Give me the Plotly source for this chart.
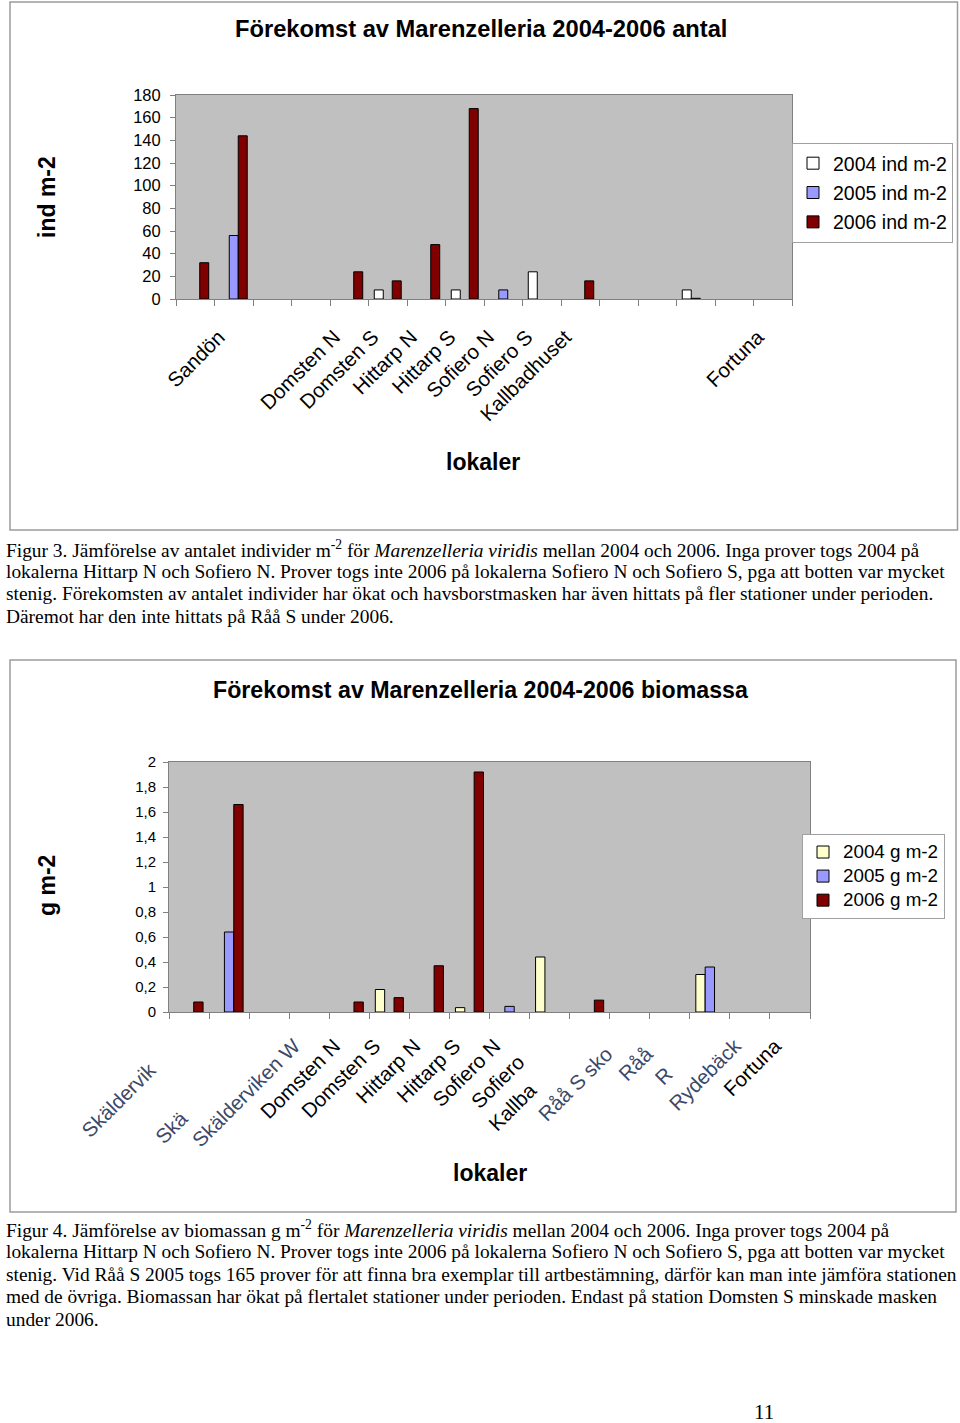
import plotly.graph_objects as go

# ---------------- data ----------------
categories = ["Skälderviken Ö", "Sandön", "Skälderviken M", "Skälderviken W",
              "Domsten N", "Domsten S", "Hittarp N", "Hittarp S",
              "Sofiero N", "Sofiero S", "Kallbadhuset", "Råå S skolan",
              "Råå S", "Råå N", "Rydebäck", "Fortuna"]

ind_2004 = [None, None, None, None, None, 8, None, 8, None, 24, None, None, None, 8, None, None]
ind_2005 = [None, 56, None, None, None, None, None, None, 8, None, None, None, None, 0.6, None, None]
ind_2006 = [32, 144, None, None, 24, 16, 48, 168, None, None, 16, None, None, None, None, None]

bio_2004 = [None, None, None, None, None, 0.18, None, 0.035, None, 0.44, None, None, None, 0.30, None, None]
bio_2005 = [None, 0.64, None, None, None, None, None, None, 0.045, None, None, None, None, 0.36, None, None]
bio_2006 = [0.08, 1.66, None, None, 0.08, 0.115, 0.37, 1.92, None, None, 0.095, None, None, None, None, None]

# visible tick labels as printed in the document
NB = "\u00a0"
G = "<span style='color:#3b4868'>{}</span>"
ticks_chart1 = ["", "Sandön", "", "", "Domsten N", "Domsten S", "Hittarp N", "Hittarp S",
                "Sofiero N", "Sofiero S", "Kallbadhuset", "", "", "", "", "Fortuna"]
ticks_chart2 = [G.format("Skäldervik") + NB * 6, "", G.format("Skä") + NB * 18,
                G.format("Skälderviken W"), "Domsten N", "Domsten S", "Hittarp N", "Hittarp S",
                "Sofiero N", "Sofiero" + NB * 4, "Kallba" + NB * 11,
                G.format("Råå S sko") + NB * 2, G.format("Råå") + NB * 2, G.format("R") + NB * 7,
                G.format("Rydebäck"), "Fortuna"]

legend1_names = ["2004 ind m-2", "2005 ind m-2", "2006 ind m-2"]
legend2_names = ["2004 g m-2", "2005 g m-2", "2006 g m-2"]

title1 = "Förekomst av Marenzelleria 2004-2006 antal"
title2 = "Förekomst av Marenzelleria 2004-2006 biomassa"

caption1 = [
    "Figur 3. Jämförelse av antalet individer m<sup>-2</sup> för <i>Marenzelleria viridis</i> mellan 2004 och 2006. Inga prover togs 2004 på",
    "lokalerna Hittarp N och Sofiero N. Prover togs inte 2006 på lokalerna Sofiero N och Sofiero S, pga att botten var mycket",
    "stenig. Förekomsten av antalet individer har ökat och havsborstmasken har även hittats på fler stationer under perioden.",
    "Däremot har den inte hittats på Råå S under 2006.",
]
caption2 = [
    "Figur 4. Jämförelse av biomassan g m<sup>-2</sup> för <i>Marenzelleria viridis</i> mellan 2004 och 2006. Inga prover togs 2004 på",
    "lokalerna Hittarp N och Sofiero N. Prover togs inte 2006 på lokalerna Sofiero N och Sofiero S, pga att botten var mycket",
    "stenig. Vid Råå S 2005 togs 165 prover för att finna bra exemplar till artbestämning, därför kan man inte jämföra stationen",
    "med de övriga. Biomassan har ökat på flertalet stationer under perioden. Endast på station Domsten S minskade masken",
    "under 2006.",
]
page_number = "11"

# ---------------- layout helpers ----------------
W, H = 960, 1423
def px(x): return x / W
def py(y): return 1 - y / H

SANS = "Liberation Sans, Arial, sans-serif"
SERIF = "Liberation Serif, Times New Roman, serif"
AX = "#808080"

fig = go.Figure()

colors1 = ["#FFFFFF", "#9999FF", "#800000"]
colors2 = ["#FFFFCC", "#9999FF", "#800000"]

for i, (name, vals) in enumerate(zip(legend1_names, [ind_2004, ind_2005, ind_2006])):
    fig.add_trace(go.Bar(x=categories, y=vals, name=name, xaxis="x", yaxis="y",
                         marker=dict(color=colors1[i], line=dict(color="black", width=1)),
                         legend="legend", legendgroup="a%d" % i))
for i, (name, vals) in enumerate(zip(legend2_names, [bio_2004, bio_2005, bio_2006])):
    fig.add_trace(go.Bar(x=categories, y=vals,
                         name="<span style='font-size:18.8px'>%s</span>" % name,
                         xaxis="x2", yaxis="y2",
                         marker=dict(color=colors2[i], line=dict(color="black", width=1)),
                         legend="legend2", legendgroup="b%d" % i))

xcommon = dict(type="category", showline=True, linecolor=AX, linewidth=1, mirror=True,
               ticks="outside", tickson="boundaries", ticklen=6, tickcolor=AX,
               tickangle=-45, tickfont=dict(family=SANS, size=20.5, color="black"),
               showgrid=False, zeroline=False, fixedrange=True, automargin=False)
ycommon = dict(showline=True, linecolor=AX, linewidth=1, mirror=True, automargin=False,
               ticks="outside", ticklen=5, tickcolor=AX, showgrid=False, zeroline=False)

annotations = [
    dict(text="<b>%s</b>" % title1, x=px(481), y=py(29), font=dict(family=SANS, size=23.7)),
    dict(text="<b>%s</b>" % title2, x=px(481), y=py(690), font=dict(family=SANS, size=23.2)),
    dict(text="<b>ind m-2</b>", x=px(47), y=py(197), textangle=-90, font=dict(family=SANS, size=23)),
    dict(text="<b>g m-2</b>", x=px(47), y=py(886), textangle=-90, font=dict(family=SANS, size=23)),
    dict(text="<b>lokaler</b>", x=px(483), y=py(462), font=dict(family=SANS, size=23)),
    dict(text="<b>lokaler</b>", x=px(490), y=py(1173), font=dict(family=SANS, size=23)),
    dict(text=page_number, x=px(764), y=py(1412), font=dict(family=SERIF, size=21)),
]
for k, line in enumerate(caption1):
    annotations.append(dict(text=line, x=px(4), y=py(549 + 22.4 * k), xanchor="left",
                            font=dict(family=SERIF, size=19.4)))
for k, line in enumerate(caption2):
    annotations.append(dict(text=line, x=px(4), y=py(1229 + 22.5 * k), xanchor="left",
                            font=dict(family=SERIF, size=19.4)))
for a in annotations:
    a.setdefault("xanchor", "center")
    a.update(xref="paper", yref="paper", yanchor="middle", showarrow=False)
    a["font"]["color"] = "black"

shapes = [
    dict(type="rect", xref="paper", yref="paper", x0=px(10), x1=px(957.5), y0=py(2), y1=py(530),
         line=dict(color="#9c9c9c", width=1.5), fillcolor="rgba(0,0,0,0)", layer="below"),
    dict(type="rect", xref="paper", yref="paper", x0=px(10), x1=px(956), y0=py(660), y1=py(1212),
         line=dict(color="#9c9c9c", width=1.5), fillcolor="rgba(0,0,0,0)", layer="below"),
]

fig.update_layout(
    width=W, height=H, autosize=False,
    margin=dict(l=0, r=0, t=0, b=0, pad=0),
    paper_bgcolor="white", plot_bgcolor="#C0C0C0",
    separators=", ",
    barmode="group", bargap=0.3, bargroupgap=0,
    font=dict(family=SANS, color="black"),
    xaxis=dict(xcommon, domain=[px(176), px(792)], anchor="y",
               tickmode="array", tickvals=categories, ticktext=ticks_chart1,
               ticklabelshift=-15, ticklabelstandoff=17),
    yaxis=dict(ycommon, domain=[py(299), py(95)], anchor="x", range=[0, 180], dtick=20,
               tickfont=dict(family=SANS, size=16.5, color="black"), ticklabelstandoff=6),
    xaxis2=dict(xcommon, domain=[px(169), px(810)], anchor="y2",
                tickmode="array", tickvals=categories, ticktext=ticks_chart2,
                ticklabelshift=-15, ticklabelstandoff=13),
    yaxis2=dict(ycommon, domain=[py(1012), py(762)], anchor="x2", range=[0, 2], dtick=0.2,
                tickfont=dict(family=SANS, size=15, color="black"), ticklabelstandoff=4),
    legend=dict(x=px(792), y=py(143), xanchor="left", yanchor="top",
                bgcolor="white", bordercolor="#a0a0a0", borderwidth=1,
                font=dict(family=SANS, size=19.5, color="black"), tracegroupgap=1,
                itemclick=False, itemdoubleclick=False),
    legend2=dict(x=px(802), y=py(834), xanchor="left", yanchor="top",
                 bgcolor="white", bordercolor="#a0a0a0", borderwidth=1,
                 font=dict(family=SANS, size=16.2, color="black"), tracegroupgap=0,
                 itemclick=False, itemdoubleclick=False),
    showlegend=True,
    annotations=annotations,
    shapes=shapes,
)

# remove the browser's default 8px page margin so the figure fills the window exactly
fig.write_html("out.html", config={"displayModeBar": False},
               post_script="document.body.style.margin='0px';")
